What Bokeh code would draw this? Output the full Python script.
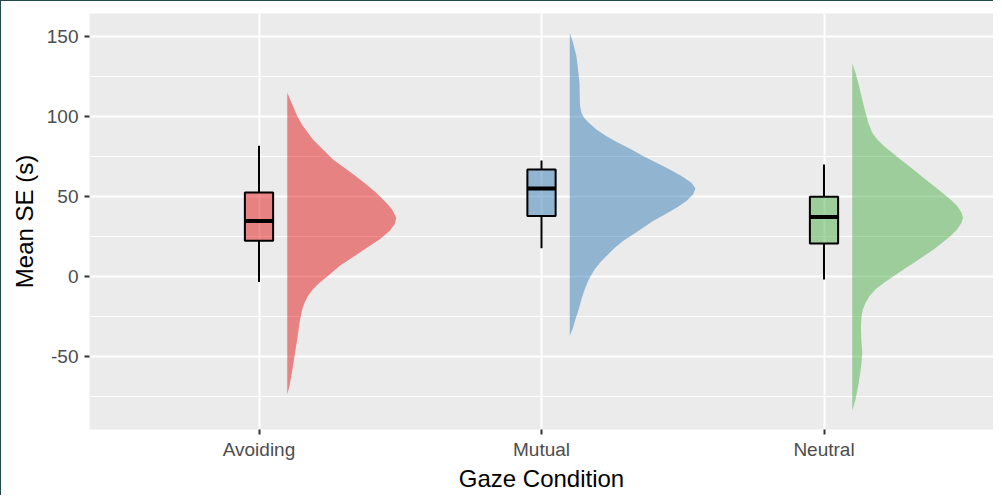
from bokeh.plotting import figure
from bokeh.models import FixedTicker, Range1d
from bokeh.embed import file_html
from bokeh.resources import INLINE

# ---------------- data ----------------
categories = ["Avoiding", "Mutual", "Neutral"]
colors = ["#E41A1C", "#377EB8", "#4DAF4A"]

# boxplot statistics (seconds)
box_lower = [-3.3, 17.7, -1.7]
box_q1 = [22.5, 37.9, 20.8]
box_median = [34.8, 55.2, 37.3]
box_q3 = [52.7, 67.1, 50.0]
box_upper = [81.9, 72.7, 70.2]

# half-violin outlines: y values and density (relative half-width)
avoiding_y = [115.0, 106.7, 100.4, 94.2, 85.8, 77.5, 73.3, 65.0, 58.75, 52.5,
              46.25, 42.1, 36.9, 32.7, 28.5, 23.3, 19.2, 12.9, 6.7, 0.4,
              -3.75, -7.9, -12.1, -16.25, -20.4, -28.75, -39.2, -49.6, -60.0,
              -68.3, -73.6]
avoiding_density = [0, 5.7, 10, 15.7, 25.7, 39, 45.7, 64, 77, 89,
                    99, 104.7, 109, 107.3, 102.3, 92.3, 82.3, 67.3, 52.3, 40.7,
                    32.3, 25.7, 20.7, 17.3, 15, 12.3, 10, 7.3, 4.7,
                    2.3, 0]

mutual_y = [152.5, 146.25, 137.9, 129.6, 121.25, 112.9, 106.7, 102.5, 99.4, 96.25,
            92.1, 87.9, 83.75, 79.6, 75.4, 71.25, 67.1, 62.9, 58.75, 55.2,
            51.4, 47.3, 43.1, 38.9, 34.8, 30.6, 26.4, 22.3, 18.1, 13.9,
            9.8, 4.6, -1.7, -7.9, -14.2, -20.4, -26.7, -31.9, -37.1]
mutual_density = [0, 3.3, 6.7, 8.3, 9.7, 10, 10.3, 11.7, 14.3, 19,
                  26.7, 36.7, 48.3, 61.7, 73.3, 86.7, 100, 111.7, 121.7, 125.7,
                  123.3, 116.7, 106.7, 95, 83.3, 73.3, 63.3, 53.3, 45, 38.3,
                  31.7, 25, 19, 15, 11.7, 9, 5.7, 3.3, 0]

neutral_y = [133.3, 127.5, 119.2, 110.8, 102.5, 96.25, 90.0, 85.8, 81.7, 77.5,
             73.3, 69.2, 65.0, 60.8, 56.7, 52.5, 48.3, 44.2, 40.0, 36.9,
             33.75, 29.6, 25.4, 21.25, 17.1, 12.9, 8.75, 4.6, 0.4, -3.75,
             -7.9, -12.1, -16.25, -20.4, -24.6, -30.8, -39.2, -47.5, -53.75,
             -60.0, -68.3, -76.7, -83.9]
neutral_density = [0, 3.3, 6.7, 10, 13.3, 16, 20, 25, 31.7, 40,
                   48.3, 56.7, 65, 73.3, 81.7, 90, 98.3, 105, 109.3, 110.7,
                   109.3, 105, 98.3, 90, 81.7, 71.7, 61.7, 51.7, 41.7, 31.7,
                   23.3, 17.3, 13.3, 10.7, 9.3, 8.7, 9, 10, 9.3,
                   8, 6, 3.3, 0]

y_ticks = [-50, 0, 50, 100, 150]
y_tick_labels = ["-50", "0", "50", "100", "150"]
y_minor = [-75, -25, 25, 75, 125]

violin_ys = [avoiding_y, mutual_y, neutral_y]
violin_dens = [avoiding_density, mutual_density, neutral_density]

# ---------------- style ----------------
FONT = "Liberation Sans"
DENS_SCALE = 1.0 / 282.5
VIOLIN_OFFSET = 0.1
BOX_WIDTH = 0.1

p = figure(width=993, height=495, output_backend="svg", toolbar_location=None,
           x_range=Range1d(0.4, 3.6), y_range=Range1d(-95.6, 164.6),
           min_border_left=88, min_border_right=1, min_border_top=12,
           min_border_bottom=67)
p.styles = {"border-left": "1px solid #234a4a", "border-top": "1px solid #234a4a"}

p.background_fill_color = "#EBEBEB"
p.border_fill_color = "white"
p.outline_line_color = None

xpos = [i + 1 for i in range(len(categories))]

# violins
for x0, ys, ds, c in zip(xpos, violin_ys, violin_dens, colors):
    base = x0 + VIOLIN_OFFSET
    xs = [base + d * DENS_SCALE for d in ds]
    p.patch(xs, ys, fill_color=c, fill_alpha=0.5, line_color=None)

# boxplots
p.segment(x0=xpos, y0=box_q3, x1=xpos, y1=box_upper, line_color="black", line_width=2)
p.segment(x0=xpos, y0=box_q1, x1=xpos, y1=box_lower, line_color="black", line_width=2)
p.vbar(x=xpos, width=BOX_WIDTH, bottom=box_q1, top=box_q3, fill_color=colors,
       fill_alpha=0.5, line_color="black", line_width=2)
p.segment(x0=[x - BOX_WIDTH / 2 for x in xpos], y0=box_median,
          x1=[x + BOX_WIDTH / 2 for x in xpos], y1=box_median,
          line_color="black", line_width=4)

# axes
p.xaxis.ticker = FixedTicker(ticks=xpos)
p.xaxis.major_label_overrides = {x: c for x, c in zip(xpos, categories)}
p.yaxis.ticker = FixedTicker(ticks=y_ticks, minor_ticks=y_minor)
p.yaxis.major_label_overrides = {t: s for t, s in zip(y_ticks, y_tick_labels)}

for ax in (p.xaxis[0], p.yaxis[0]):
    ax.axis_line_color = None
    ax.major_tick_line_color = "#333333"
    ax.major_tick_line_width = 2
    ax.major_tick_out = 5
    ax.major_tick_in = 0
    ax.minor_tick_out = 0
    ax.minor_tick_in = 0
    ax.major_label_text_font = FONT
    ax.major_label_text_font_size = "19px"
    ax.major_label_text_color = "#4D4D4D"
    ax.axis_label_text_font = FONT
    ax.axis_label_text_font_size = "24px"
    ax.axis_label_text_font_style = "normal"
    ax.axis_label_text_color = "black"

p.xaxis.axis_label = "Gaze Condition"
p.yaxis.axis_label = "Mean SE (s)"
p.xaxis.major_label_standoff = 4
p.xaxis.axis_label_standoff = 2
p.yaxis.major_label_standoff = 6
p.yaxis.axis_label_standoff = 6

# grid
p.xgrid.grid_line_color = "white"
p.xgrid.grid_line_width = 2
p.ygrid.grid_line_color = "white"
p.ygrid.grid_line_width = 2
p.ygrid.minor_grid_line_color = "white"
p.ygrid.minor_grid_line_width = 1

open("out.html", "w").write(file_html(p, INLINE))
